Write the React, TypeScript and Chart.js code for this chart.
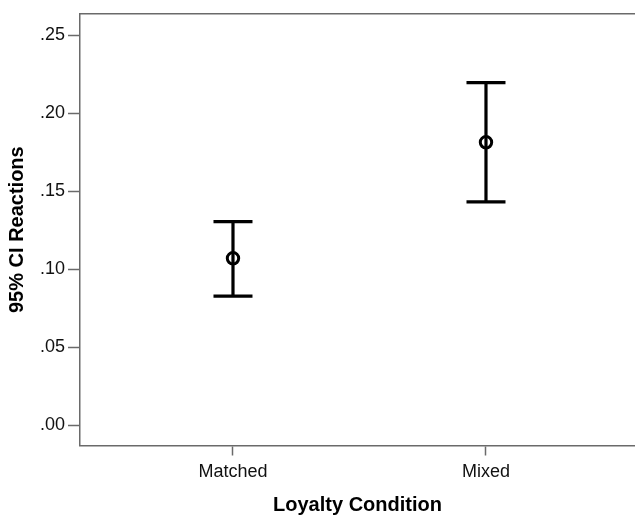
import React, { useEffect, useRef } from "react";
import { Chart, registerables } from "chart.js";

Chart.register(...registerables);

const CATEGORIES = ["Matched", "Mixed"];
const MEANS = [0.107, 0.1814];
const LOWER = [0.0828, 0.1432];
const UPPER = [0.1305, 0.2196];
const Y_TICKS = [0, 0.05, 0.1, 0.15, 0.2, 0.25];
const X_TITLE = "Loyalty Condition";
const Y_TITLE = "95% CI Reactions";

const FONT = "'Liberation Sans', Arial, sans-serif";
const AXIS_COLOR = "#6a6a6a";

const errorBarPlugin = {
  id: "errorBars",
  beforeDatasetsDraw(chart: any) {
    const { ctx, scales } = chart;
    const xs = scales.x;
    const ys = scales.y;
    ctx.save();
    ctx.strokeStyle = "#000";
    ctx.lineWidth = 3.2;
    ctx.lineCap = "butt";
    CATEGORIES.forEach((_, i) => {
      const x = xs.getPixelForValue(i);
      const yl = ys.getPixelForValue(LOWER[i]);
      const yu = ys.getPixelForValue(UPPER[i]);
      const half = 19.5;
      ctx.beginPath();
      ctx.moveTo(x, yl);
      ctx.lineTo(x, yu);
      ctx.moveTo(x - half, yl);
      ctx.lineTo(x + half, yl);
      ctx.moveTo(x - half, yu);
      ctx.lineTo(x + half, yu);
      ctx.stroke();
    });
    ctx.restore();
  },
  afterDraw(chart: any) {
    const { ctx, chartArea } = chart;
    ctx.save();
    ctx.strokeStyle = AXIS_COLOR;
    ctx.lineWidth = 1.5;
    ctx.beginPath();
    ctx.moveTo(chartArea.left, chartArea.top);
    ctx.lineTo(chartArea.right, chartArea.top);
    ctx.stroke();
    ctx.restore();
  },
};

export default function App() {
  const ref = useRef<HTMLCanvasElement | null>(null);

  useEffect(() => {
    if (!ref.current) return;
    const chart = new Chart(ref.current, {
      type: "scatter",
      data: {
        datasets: [
          {
            data: CATEGORIES.map((_, i) => ({ x: i, y: MEANS[i] })),
            pointStyle: "circle",
            pointRadius: 5.7,
            pointBorderWidth: 3,
            pointBackgroundColor: "rgba(0,0,0,0)",
            pointBorderColor: "#000",
          },
        ],
      },
      options: {
        responsive: false,
        animation: false,
        layout: { autoPadding: false, padding: { top: 10.7, left: 0, right: 0, bottom: 0 } },
        plugins: {
          legend: { display: false },
          tooltip: { enabled: false },
          title: { display: false },
        },
        scales: {
          x: {
            type: "linear",
            min: -0.6047,
            max: 1.589,
            afterBuildTicks: (scale: any) => {
              scale.ticks = CATEGORIES.map((_, i) => ({ value: i }));
            },
            afterFit: (scale: any) => {
              scale.height = 69.5;
            },
            ticks: {
              autoSkip: false,
              maxRotation: 0,
              padding: 6,
              color: "#111",
              font: { family: FONT, size: 18 },
              callback: (v: any) => CATEGORIES[Math.round(Number(v))] ?? "",
            },
            grid: {
              display: true,
              drawOnChartArea: false,
              drawTicks: true,
              tickLength: 10,
              tickColor: AXIS_COLOR,
              tickWidth: 1.5,
            },
            border: { display: true, color: AXIS_COLOR, width: 1.5 },
            title: {
              display: true,
              text: X_TITLE,
              color: "#000",
              font: { family: FONT, size: 20, weight: "bold", lineHeight: 1 },
              padding: { top: 0, bottom: 0 },
            },
          },
          y: {
            type: "linear",
            min: -0.01305,
            max: 0.2638,
            afterBuildTicks: (scale: any) => {
              scale.ticks = Y_TICKS.map((v) => ({ value: v }));
            },
            afterFit: (scale: any) => {
              scale.width = 80;
            },
            ticks: {
              padding: 3,
              color: "#111",
              font: { family: FONT, size: 18 },
              callback: (v: any) => Number(v).toFixed(2).replace(/^0/, ""),
            },
            grid: {
              display: true,
              drawOnChartArea: false,
              drawTicks: true,
              tickLength: 12,
              tickColor: AXIS_COLOR,
              tickWidth: 1.5,
            },
            border: { display: true, color: AXIS_COLOR, width: 1.5 },
            title: {
              display: true,
              text: Y_TITLE,
              color: "#000",
              font: { family: FONT, size: 20, weight: "bold", lineHeight: 1.2 },
              padding: { top: 5.5, bottom: 0 },
            },
          },
        },
      },
      plugins: [errorBarPlugin],
    });
    return () => chart.destroy();
  }, []);

  return (
    <div style={{ position: "fixed", left: 0, top: 0, width: 635, height: 515, background: "#fff" }}>
      <canvas ref={ref} width={635} height={515} style={{ display: "block" }} />
    </div>
  );
}
